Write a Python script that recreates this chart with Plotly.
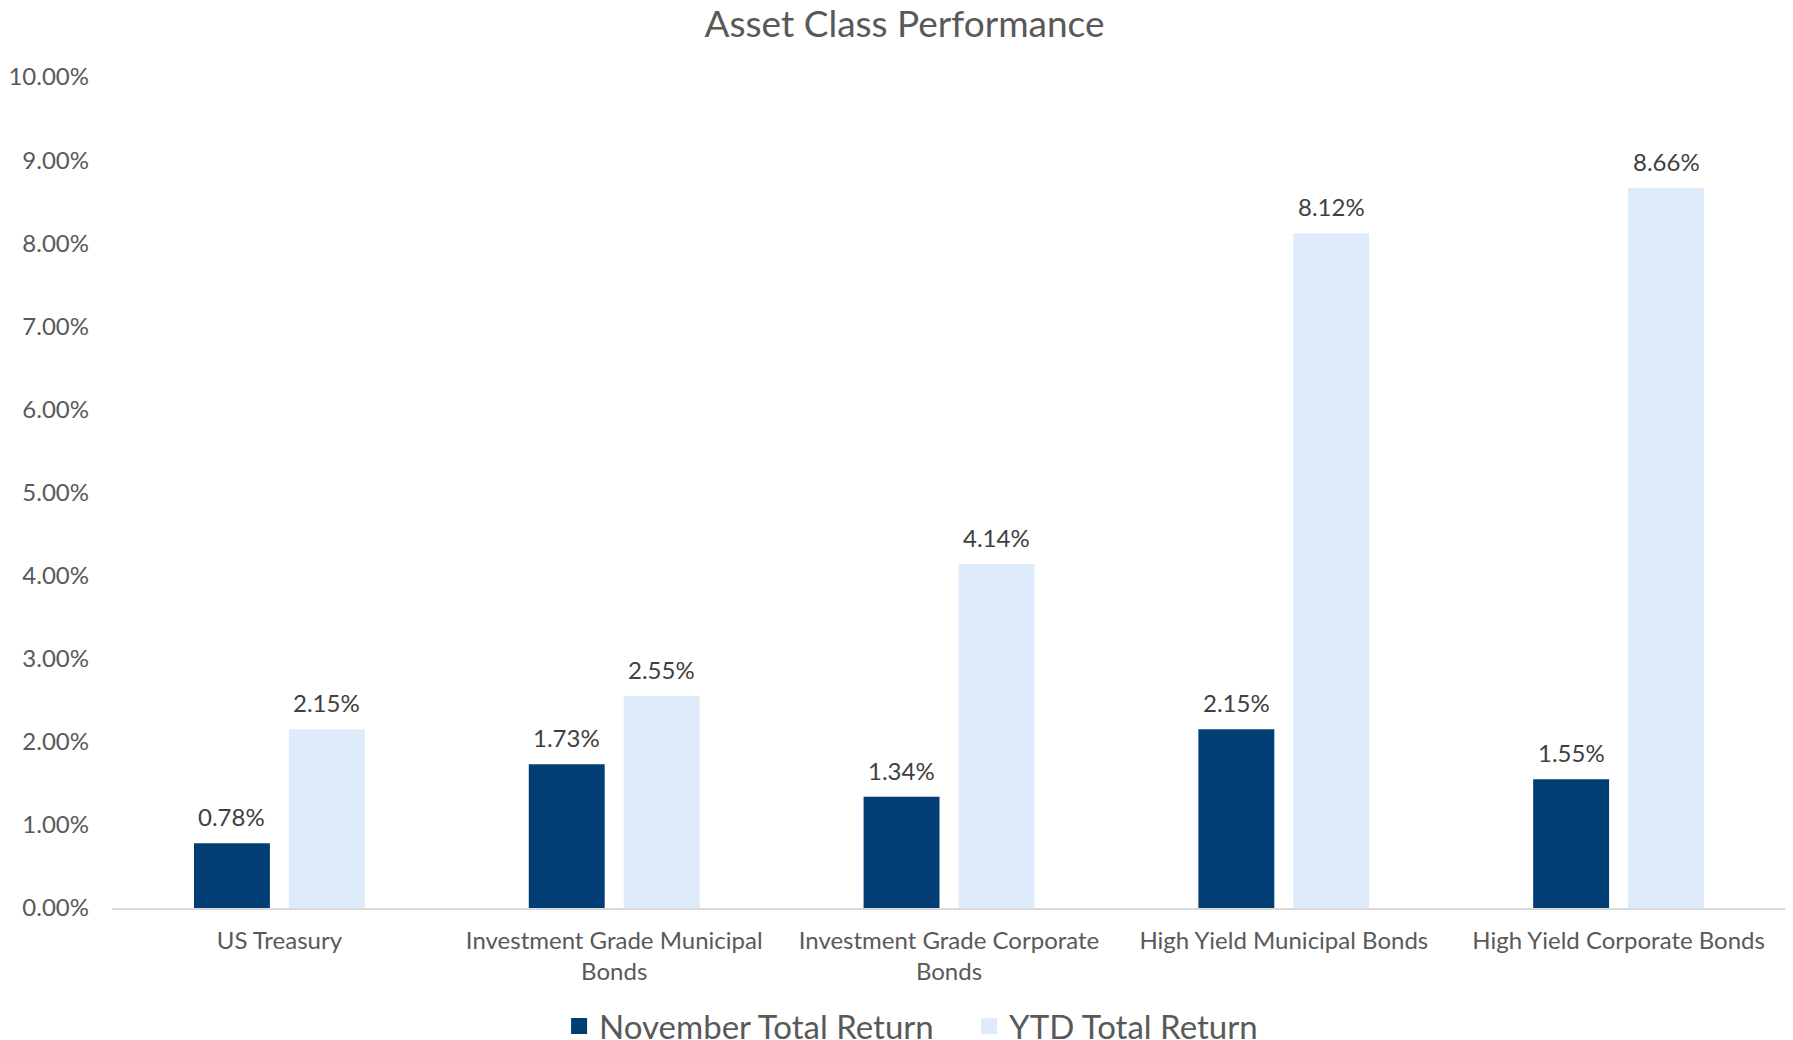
import plotly.graph_objects as go

categories = [
    "US Treasury",
    "Investment Grade Municipal<br>Bonds",
    "Investment Grade Corporate<br>Bonds",
    "High Yield Municipal Bonds",
    "High Yield Corporate Bonds",
]
november = [0.78, 1.73, 1.34, 2.15, 1.55]
ytd = [2.15, 2.55, 4.14, 8.12, 8.66]
y_ticks = [0, 1, 2, 3, 4, 5, 6, 7, 8, 9, 10]
series_names = ["November Total Return", "YTD Total Return"]

NAVY = "#023E73"
LIGHT = "#DDEBFB"
FONT = "Lato, 'Open Sans', sans-serif"

fig = go.Figure()
for name, vals, col in zip(series_names, (november, ytd), (NAVY, LIGHT)):
    fig.add_trace(go.Bar(name=name, x=categories, y=vals, showlegend=False,
                         marker=dict(color=col, line=dict(width=0))))
    # legend-only stand-in so the legend square can be bigger
    fig.add_trace(go.Scatter(name=name, x=[None], y=[None], mode="markers",
                             marker=dict(symbol="square", size=18, color=col),
                             hoverinfo="skip"))

# data labels above each bar (offset half a bar slot left/right of the category)
slot_px = 47.5
for vals, sign in ((november, -1), (ytd, 1)):
    for cat, v in zip(categories, vals):
        fig.add_annotation(x=cat, y=v, text=f"{v:.2f}%", showarrow=False,
                           xshift=sign * slot_px, yanchor="bottom", yshift=10,
                           font=dict(family=FONT, size=24, color="#404040"))

fig.update_layout(
    title=dict(text="Asset Class Performance", x=0.5, xanchor="center",
               y=0.985, yanchor="middle", yref="container",
               font=dict(family=FONT, size=37, color="#595959")),
    barmode="group", bargap=0.433, bargroupgap=0.2,
    width=1793, height=1040,
    margin=dict(l=104, r=15, t=69, b=140, autoexpand=False),
    paper_bgcolor="white", plot_bgcolor="white",
    font=dict(family=FONT, color="#595959"),
    xaxis=dict(showline=True, linecolor="#D9D9D9", linewidth=2,
               tickfont=dict(family=FONT, size=24, color="#595959"),
               ticks="", showgrid=False, ticklabelstandoff=10),
    yaxis=dict(range=[0, 10], tickvals=y_ticks,
               ticktext=[f"{t:.2f}%" for t in y_ticks],
               tickfont=dict(family=FONT, size=24, color="#595959"),
               showgrid=False, zeroline=False, ticks="", ticklabelstandoff=22),
    legend=dict(orientation="h", x=0.512, xanchor="center",
                y=0.021, yanchor="middle", yref="container",
                font=dict(family=FONT, size=33, color="#595959"),
                itemwidth=30, itemsizing="trace", entrywidth=365,
                traceorder="normal"),
)

fig.write_html("out.html")
